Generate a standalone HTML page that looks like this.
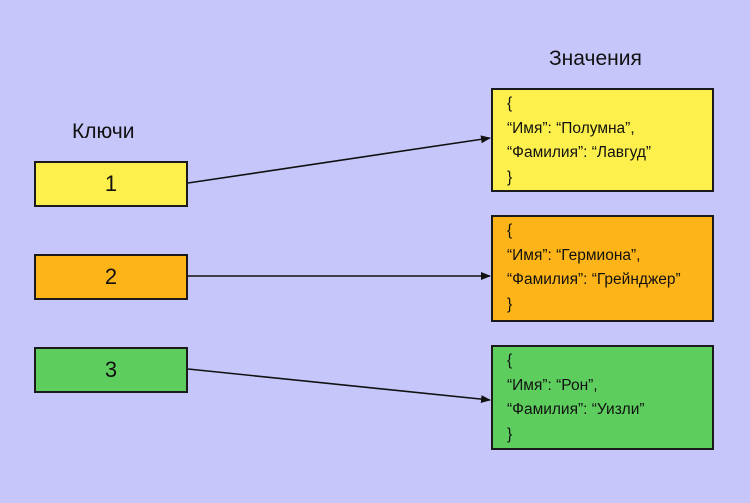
<!DOCTYPE html>
<html><head><meta charset="utf-8"><style>
body{margin:0;width:750px;height:503px;background:#c6c6fa;font-family:"Liberation Sans","DejaVu Sans",sans-serif;position:relative;overflow:hidden;color:#111}
.b{position:absolute;border:2px solid #1a1a1a;box-sizing:border-box}
.k{left:34px;width:154px;height:46px;font-size:22px;text-align:center;line-height:42px}
.v{left:491px;width:223px;font-size:15.5px;line-height:24.5px;padding:2px 0 0 14px}
.y{background:#fdf04c}.o{background:#fdb418}.g{background:#5dce5e}
.t{position:absolute;font-size:21px}
</style></head><body>
<div class="t" style="left:72px;top:120px">Ключи</div>
<div class="t" style="left:549px;top:47px">Значения</div>
<div class="b k y" style="top:161px">1</div>
<div class="b k o" style="top:254px">2</div>
<div class="b k g" style="top:347px">3</div>
<div class="b v y" style="top:88px;height:104px">{<br>“Имя”: “Полумна”,<br>“Фамилия”: “Лавгуд”<br>}</div>
<div class="b v o" style="top:215px;height:107px">{<br>“Имя”: “Гермиона”,<br>“Фамилия”: “Грейнджер”<br>}</div>
<div class="b v g" style="top:345px;height:105px">{<br>“Имя”: “Рон”,<br>“Фамилия”: “Уизли”<br>}</div>
<svg width="750" height="503" style="position:absolute;left:0;top:0">
<defs><marker id="a" markerWidth="10" markerHeight="8" refX="9" refY="4" orient="auto" markerUnits="userSpaceOnUse"><path d="M0,0L10,4L0,8z" fill="#111"/></marker></defs>
<g stroke="#111" stroke-width="1.6" marker-end="url(#a)">
<line x1="188" y1="183" x2="490" y2="138"/>
<line x1="188" y1="276" x2="490" y2="276"/>
<line x1="188" y1="369" x2="490" y2="400"/>
</g></svg>
</body></html>
